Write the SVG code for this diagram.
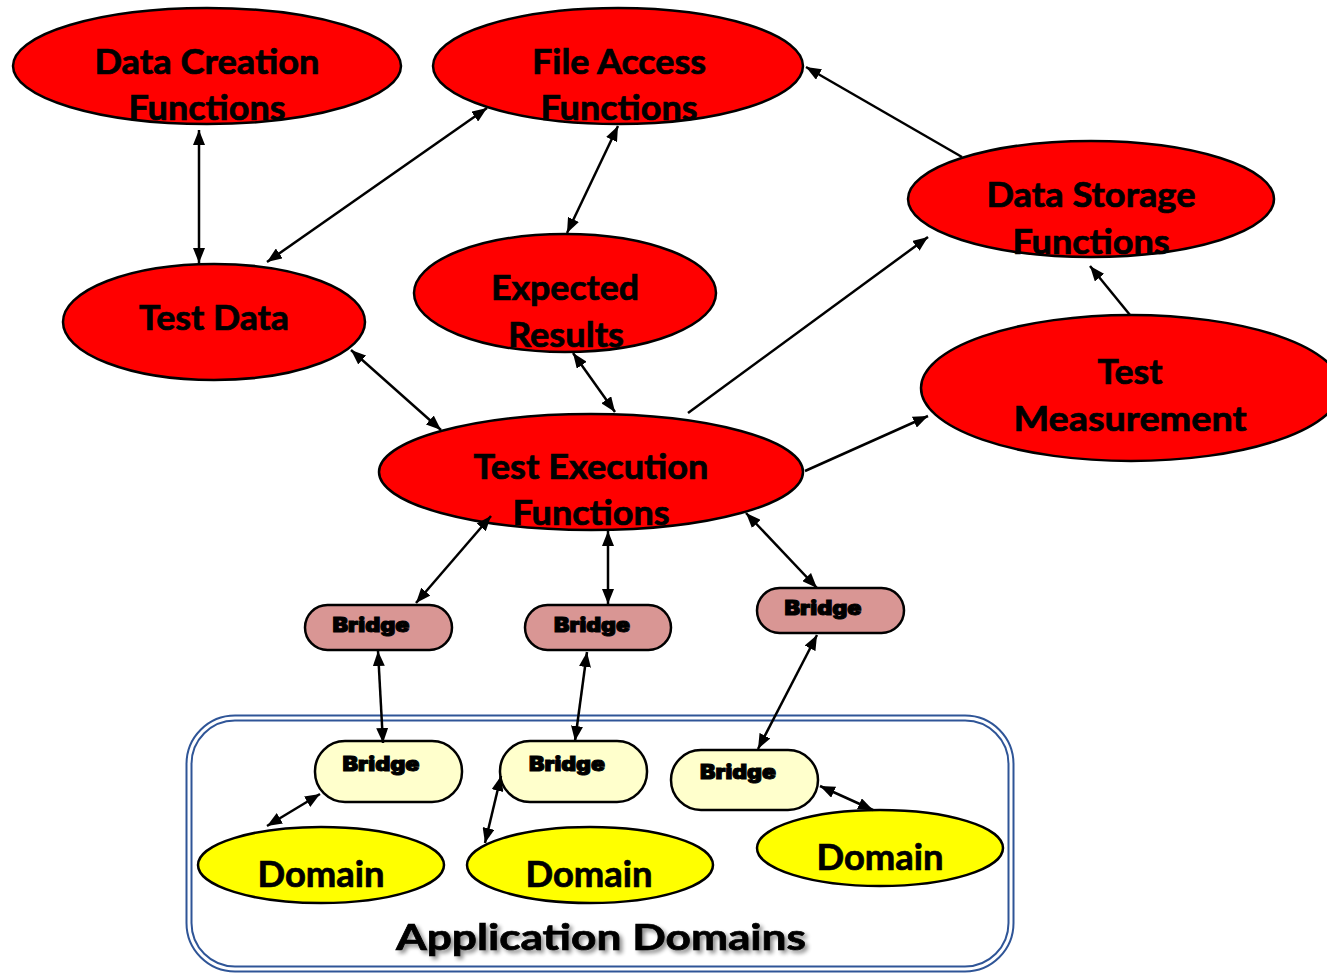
<svg xmlns="http://www.w3.org/2000/svg" width="1327" height="974" viewBox="0 0 1327 974">
  <style>
    .red { fill: #ff0000; stroke: #000; stroke-width: 2.5; }
    .dom { fill: #ffff00; stroke: #000; stroke-width: 2.5; }
    .brp { fill: #d99694; stroke: #000; stroke-width: 2.5; }
    .bry { fill: #ffffcc; stroke: #000; stroke-width: 2.5; }
    .lbl { font-family: Lato, "Open Sans", "Liberation Sans", sans-serif; font-weight: 700; font-size: 34px; fill: #000; stroke: #000; stroke-width: 0.7; text-anchor: middle; }
    .dlbl { font-family: Lato, "Open Sans", "Liberation Sans", sans-serif; font-weight: 700; font-size: 36px; fill: #000; stroke: #000; stroke-width: 0.7; text-anchor: middle; }
    .blbl { font-family: Inter, "Liberation Sans", sans-serif; font-weight: 900; font-size: 20px; fill: #000; stroke: #000; stroke-width: 1; text-anchor: middle; }
    .conn { stroke: #000; stroke-width: 2.5; fill: none; }
  </style>
  <defs>
    <marker id="ah" markerUnits="userSpaceOnUse" markerWidth="16" markerHeight="12" refX="15" refY="6" orient="auto-start-reverse">
      <path d="M0,0 L15,6 L0,12 z" fill="#000"/>
    </marker>
    <filter id="shadow" x="-10%" y="-30%" width="120%" height="160%">
      <feGaussianBlur in="SourceAlpha" stdDeviation="2"/>
      <feOffset dx="3" dy="3" result="b"/>
      <feComponentTransfer><feFuncA type="linear" slope="0.45"/></feComponentTransfer>
      <feMerge><feMergeNode/><feMergeNode in="SourceGraphic"/></feMerge>
    </filter>
  </defs>

  <!-- application domains container: double blue rounded border -->
  <g id="app-domains">
    <rect x="189" y="718" width="822" height="251" rx="46" fill="#fff" stroke="#2f5597" stroke-width="7"/>
    <rect x="189" y="718" width="822" height="251" rx="46" fill="none" stroke="#fff" stroke-width="3"/>
    <text class="dlbl" x="601" y="950" font-size="40" textLength="410" lengthAdjust="spacingAndGlyphs" filter="url(#shadow)">Application Domains</text>
  </g>

  <g id="data-creation">
    <ellipse class="red" cx="207" cy="66" rx="194" ry="58"/>
    <text class="lbl" x="207" y="74" textLength="225" lengthAdjust="spacingAndGlyphs">Data Creation</text>
    <text class="lbl" x="207" y="120" textLength="157" lengthAdjust="spacingAndGlyphs">Functions</text>
  </g>
  <g id="file-access">
    <ellipse class="red" cx="618" cy="66" rx="185" ry="58"/>
    <text class="lbl" x="619" y="74" textLength="174" lengthAdjust="spacingAndGlyphs">File Access</text>
    <text class="lbl" x="619" y="120" textLength="157" lengthAdjust="spacingAndGlyphs">Functions</text>
  </g>
  <g id="data-storage">
    <ellipse class="red" cx="1091" cy="199" rx="183" ry="58"/>
    <text class="lbl" x="1091" y="207" textLength="209" lengthAdjust="spacingAndGlyphs">Data Storage</text>
    <text class="lbl" x="1091" y="254" textLength="157" lengthAdjust="spacingAndGlyphs">Functions</text>
  </g>
  <g id="test-data">
    <ellipse class="red" cx="214" cy="322" rx="151" ry="58"/>
    <text class="lbl" x="214" y="330" textLength="150" lengthAdjust="spacingAndGlyphs">Test Data</text>
  </g>
  <g id="expected-results">
    <ellipse class="red" cx="565" cy="293" rx="151" ry="59"/>
    <text class="lbl" x="565" y="300" textLength="148" lengthAdjust="spacingAndGlyphs">Expected</text>
    <text class="lbl" x="566" y="347" textLength="116" lengthAdjust="spacingAndGlyphs">Results</text>
  </g>
  <g id="test-measurement">
    <ellipse class="red" cx="1131" cy="388" rx="210" ry="73"/>
    <text class="lbl" x="1130" y="384" textLength="65" lengthAdjust="spacingAndGlyphs">Test</text>
    <text class="lbl" x="1130" y="431" textLength="233" lengthAdjust="spacingAndGlyphs">Measurement</text>
  </g>
  <g id="test-execution">
    <ellipse class="red" cx="591" cy="472" rx="212" ry="58"/>
    <text class="lbl" x="591" y="479" textLength="235" lengthAdjust="spacingAndGlyphs">Test Execution</text>
    <text class="lbl" x="591" y="525" textLength="157" lengthAdjust="spacingAndGlyphs">Functions</text>
  </g>

  <g id="bridge-1">
    <rect class="brp" x="305" y="605" width="147" height="45" rx="22.5"/>
    <text class="blbl" x="371" y="632" textLength="77" lengthAdjust="spacingAndGlyphs">Bridge</text>
  </g>
  <g id="bridge-2">
    <rect class="brp" x="525" y="605" width="146" height="45" rx="22.5"/>
    <text class="blbl" x="592" y="632" textLength="76" lengthAdjust="spacingAndGlyphs">Bridge</text>
  </g>
  <g id="bridge-3">
    <rect class="brp" x="757" y="588" width="147" height="45" rx="22.5"/>
    <text class="blbl" x="823" y="615" textLength="77" lengthAdjust="spacingAndGlyphs">Bridge</text>
  </g>

  <g id="domain-bridge-1">
    <rect class="bry" x="315" y="741" width="147" height="61" rx="30"/>
    <text class="blbl" x="381" y="771" textLength="77" lengthAdjust="spacingAndGlyphs">Bridge</text>
  </g>
  <g id="domain-bridge-2">
    <rect class="bry" x="500" y="741" width="147" height="61" rx="30"/>
    <text class="blbl" x="567" y="771" textLength="76" lengthAdjust="spacingAndGlyphs">Bridge</text>
  </g>
  <g id="domain-bridge-3">
    <rect class="bry" x="671" y="750" width="147" height="60" rx="30"/>
    <text class="blbl" x="738" y="779" textLength="76" lengthAdjust="spacingAndGlyphs">Bridge</text>
  </g>

  <g id="domain-1">
    <ellipse class="dom" cx="321" cy="865" rx="123" ry="38"/>
    <text class="dlbl" x="321" y="887" textLength="127" lengthAdjust="spacingAndGlyphs">Domain</text>
  </g>
  <g id="domain-2">
    <ellipse class="dom" cx="590" cy="865" rx="123" ry="38"/>
    <text class="dlbl" x="589" y="887" textLength="127" lengthAdjust="spacingAndGlyphs">Domain</text>
  </g>
  <g id="domain-3">
    <ellipse class="dom" cx="880" cy="848" rx="123" ry="38"/>
    <text class="dlbl" x="880" y="870" textLength="127" lengthAdjust="spacingAndGlyphs">Domain</text>
  </g>

  <g id="connectors">
    <line class="conn" x1="199" y1="130" x2="199" y2="263" marker-start="url(#ah)" marker-end="url(#ah)"/>
    <line class="conn" x1="267" y1="262" x2="487" y2="108" marker-start="url(#ah)" marker-end="url(#ah)"/>
    <line class="conn" x1="618" y1="126" x2="567" y2="233" marker-start="url(#ah)" marker-end="url(#ah)"/>
    <line class="conn" x1="962" y1="157" x2="806" y2="67" marker-end="url(#ah)"/>
    <line class="conn" x1="688" y1="413" x2="928" y2="237" marker-end="url(#ah)"/>
    <line class="conn" x1="1130" y1="315" x2="1090" y2="266" marker-end="url(#ah)"/>
    <line class="conn" x1="805" y1="471" x2="928" y2="416" marker-end="url(#ah)"/>
    <line class="conn" x1="573" y1="353" x2="615" y2="412" marker-start="url(#ah)" marker-end="url(#ah)"/>
    <line class="conn" x1="351" y1="350" x2="441" y2="430" marker-start="url(#ah)" marker-end="url(#ah)"/>
    <line class="conn" x1="491" y1="516" x2="416" y2="603" marker-start="url(#ah)" marker-end="url(#ah)"/>
    <line class="conn" x1="608" y1="531" x2="608" y2="604" marker-start="url(#ah)" marker-end="url(#ah)"/>
    <line class="conn" x1="746" y1="513" x2="817" y2="588" marker-start="url(#ah)" marker-end="url(#ah)"/>
    <line class="conn" x1="378" y1="651" x2="383" y2="743" marker-start="url(#ah)" marker-end="url(#ah)"/>
    <line class="conn" x1="587" y1="652" x2="575" y2="741" marker-start="url(#ah)" marker-end="url(#ah)"/>
    <line class="conn" x1="817" y1="635" x2="758" y2="749" marker-start="url(#ah)" marker-end="url(#ah)"/>
    <line class="conn" x1="320" y1="794" x2="267" y2="826" marker-start="url(#ah)" marker-end="url(#ah)"/>
    <line class="conn" x1="501" y1="776" x2="485" y2="843" marker-start="url(#ah)" marker-end="url(#ah)"/>
    <line class="conn" x1="820" y1="786" x2="873" y2="810" marker-start="url(#ah)" marker-end="url(#ah)"/>
  </g>
</svg>
